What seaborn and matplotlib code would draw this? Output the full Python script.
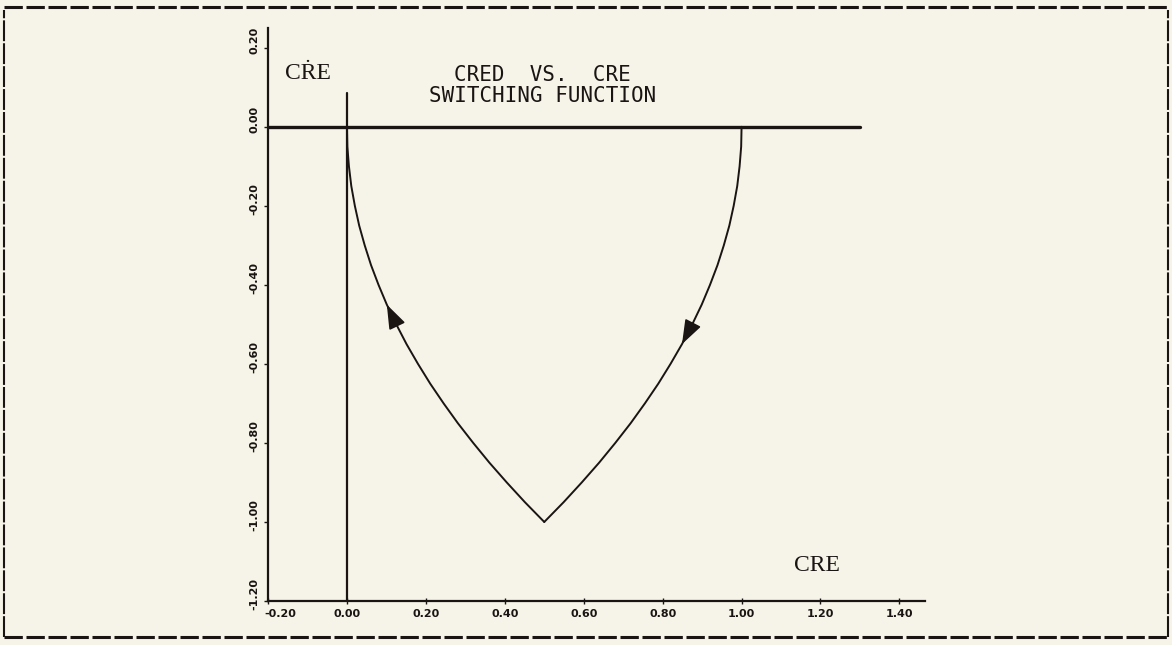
import matplotlib
matplotlib.use("Agg")
import matplotlib.pyplot as plt
from matplotlib.lines import Line2D
from matplotlib.transforms import ScaledTranslation
import numpy as np
import pandas as pd
import seaborn as sns

# ---- data ----
cre_dot = [0.0, -0.05, -0.1, -0.15, -0.2, -0.25, -0.3, -0.35, -0.4, -0.45, -0.5,
           -0.55, -0.6, -0.65, -0.7, -0.75, -0.8, -0.85, -0.9, -0.95, -1.0]
cre_right = [1.0, 0.999, 0.995, 0.989, 0.98, 0.969, 0.955, 0.939, 0.92, 0.899, 0.875,
             0.849, 0.82, 0.789, 0.755, 0.719, 0.68, 0.639, 0.595, 0.549, 0.5]
cre_left = [0.0, 0.001, 0.005, 0.011, 0.02, 0.031, 0.045, 0.061, 0.08, 0.101, 0.125,
            0.151, 0.18, 0.211, 0.245, 0.281, 0.32, 0.361, 0.405, 0.451, 0.5]
# arrow positions (index into the branch arrays)
arrow_left_idx = 10   # pointing up along the left branch
arrow_right_idx = 10  # pointing down along the right branch

x_ticks = [-0.20, 0.00, 0.20, 0.40, 0.60, 0.80, 1.00, 1.20, 1.40]
y_ticks = [-1.20, -1.00, -0.80, -0.60, -0.40, -0.20, 0.00, 0.20]
x_ticklabels = ["-0.20", "0.00", "0.20", "0.40", "0.60", "0.80", "1.00", "1.20", "1.40"]
y_ticklabels = ["-1.20", "-1.00", "-0.80", "-0.60", "-0.40", "-0.20", "0.00", "0.20"]

hline_x = [-0.20, 1.30]
vline_y = [-1.20, 0.086]

title_lines = ["CRED  VS.  CRE", "SWITCHING FUNCTION"]

BG = "#f6f4e8"
INK = "#1a1412"

sns.set_theme(style="ticks")
plt.rcParams["font.family"] = ["DejaVu Sans"]

fig = plt.figure(figsize=(11.72, 6.45), dpi=100, facecolor=BG)
ax = fig.add_axes([0.2287, 0.0682, 0.5606, 0.8884])
ax.set_facecolor(BG)

df_r = pd.DataFrame({"x": cre_right, "y": cre_dot})
df_l = pd.DataFrame({"x": cre_left, "y": cre_dot})
sns.lineplot(data=df_r, x="x", y="y", sort=False, estimator=None, color=INK, lw=1.4, ax=ax)
sns.lineplot(data=df_l, x="x", y="y", sort=False, estimator=None, color=INK, lw=1.4, ax=ax)

# reference lines
sns.lineplot(x=hline_x, y=[0.0, 0.0], color=INK, lw=2.4, ax=ax, estimator=None)
sns.lineplot(x=[0.0, 0.0], y=vline_y, color=INK, lw=1.6, ax=ax, estimator=None, sort=False)

# arrowheads
arrow_style = dict(arrowstyle="-|>,head_length=1.25,head_width=0.45", color=INK, lw=1.2,
                   shrinkA=0, shrinkB=0)
i = arrow_left_idx
ax.annotate("", xy=(cre_left[i - 1], cre_dot[i - 1]), xytext=(cre_left[i], cre_dot[i]),
            arrowprops=arrow_style)
j = arrow_right_idx
ax.annotate("", xy=(cre_right[j + 1], cre_dot[j + 1]), xytext=(cre_right[j], cre_dot[j]),
            arrowprops=arrow_style)

ax.set_xlim(-0.20, 1.465)
ax.set_ylim(-1.20, 0.25)
ax.set_xlabel("")
ax.set_ylabel("")

ax.set_xticks(x_ticks)
ax.set_xticklabels(x_ticklabels, fontsize=8, fontweight="bold", color=INK)
ax.set_yticks(y_ticks)
ax.set_yticklabels(y_ticklabels, fontsize=8, fontweight="bold", color=INK,
                   rotation=90, va="center")
ax.tick_params(axis="x", direction="inout", length=5, width=1, colors=INK, pad=3)
ax.tick_params(axis="y", direction="out", length=3, width=1, colors=INK, pad=3)

# small offsets as in the reference (y labels sit slightly above their ticks)
for lbl in ax.get_yticklabels():
    lbl.set_transform(lbl.get_transform() + ScaledTranslation(0, 0.07, fig.dpi_scale_trans))
xl0 = ax.get_xticklabels()[0]
xl0.set_transform(xl0.get_transform() + ScaledTranslation(0.12, 0, fig.dpi_scale_trans))

for s in ["top", "right"]:
    ax.spines[s].set_visible(False)
for s in ["left", "bottom"]:
    ax.spines[s].set_linewidth(1.6)
    ax.spines[s].set_color(INK)

# texts
ax.text(0.495, 0.13, title_lines[0], ha="center", va="center", fontsize=15,
        family=["DejaVu Sans Mono"], color=INK)
ax.text(0.495, 0.078, title_lines[1], ha="center", va="center", fontsize=15,
        family=["DejaVu Sans Mono"], color=INK)
ax.text(-0.10, 0.135, "C\u1E58E", ha="center", va="center", fontsize=17,
        family=["Liberation Serif", "DejaVu Serif"], color=INK)
ax.text(1.19, -1.109, "CRE", ha="center", va="center", fontsize=17,
        family=["Liberation Serif", "DejaVu Serif"], color=INK)

# scanned page border
fig.add_artist(Line2D([0.003, 0.997], [0.989, 0.989], transform=fig.transFigure,
                      color=INK, lw=2.2, linestyle=(0, (6, 1.2))))
fig.add_artist(Line2D([0.003, 0.997], [0.012, 0.012], transform=fig.transFigure,
                      color=INK, lw=2.2, linestyle=(0, (6, 1.2))))
fig.add_artist(Line2D([0.003, 0.003], [0.012, 0.985], transform=fig.transFigure,
                      color=INK, lw=1.5, linestyle=(0, (10, 1))))
fig.add_artist(Line2D([0.997, 0.997], [0.012, 0.985], transform=fig.transFigure,
                      color=INK, lw=1.5, linestyle=(0, (10, 1))))

fig.savefig("out.png", dpi=100, facecolor=BG)
